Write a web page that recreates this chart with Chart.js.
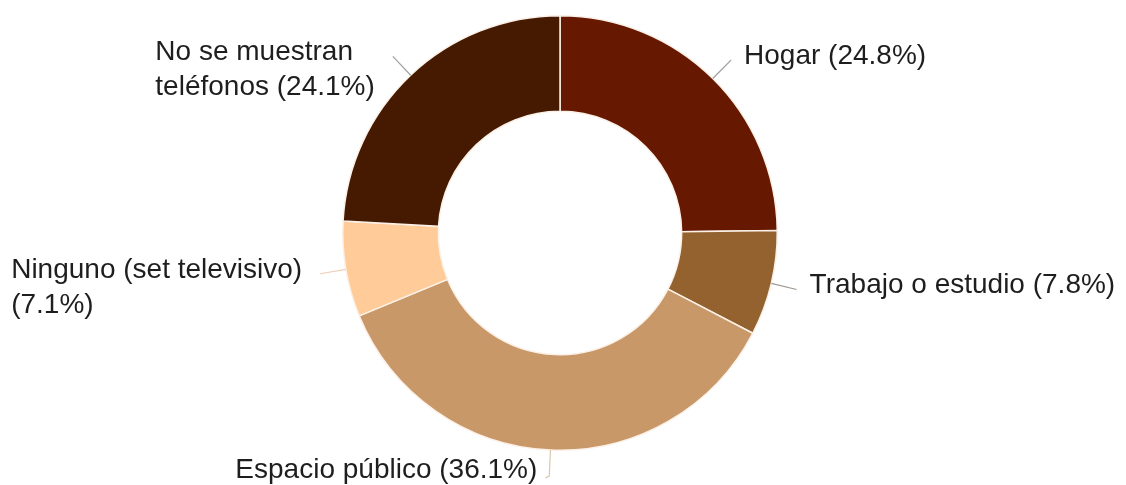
<!DOCTYPE html>
<html lang="es">
<head>
<meta charset="utf-8">
<title>Lugar donde se muestran teléfonos</title>
<script src="https://cdn.jsdelivr.net/npm/chart.js@4/dist/chart.umd.min.js"></script>
<style>
  html, body { margin: 0; padding: 0; background: #fff; }
  #wrap { position: relative; width: 1126px; height: 485px; }
</style>
</head>
<body>
<div id="wrap"><canvas id="placeChart"></canvas></div>
<script>
// multi-line categories: the share is appended to the last line
const categories = [
  "Hogar",
  "Trabajo o estudio",
  "Espacio público",
  ["Ninguno (set televisivo)", ""],
  ["No se muestran", "teléfonos"],
];
const shares = [24.8, 7.8, 36.1, 7.1, 24.1];

const sliceColors = ["#661900", "#94622f", "#c99868", "#ffcc99", "#461a00"];
const leaderColors = ["#9c9c9c", "#a09890", "#dcc6aa", "#f2cdb8", "#a0a0a0"];

function labelLines(i) {
  const cat = categories[i];
  const lines = Array.isArray(cat) ? cat.slice() : [cat];
  const last = lines.length - 1;
  lines[last] = (lines[last] + " (" + shares[i].toFixed(1) + "%)").trim();
  return lines;
}

// outside labels with leader lines, placed from each arc's own geometry
const sliceLabels = {
  id: "sliceLabels",
  afterDatasetsDraw(chart) {
    const ctx = chart.ctx;
    const arcs = chart.getDatasetMeta(0).data;
    const leader = 26;
    const lineHeight = 35;

    ctx.save();
    ctx.font = "28px 'Liberation Sans', Arial, sans-serif";
    ctx.textBaseline = "alphabetic";
    ctx.textAlign = "left";

    arcs.forEach((arc, i) => {
      const { x, y, startAngle, endAngle, outerRadius } = arc.getProps(
        ["x", "y", "startAngle", "endAngle", "outerRadius"], true);
      const mid = (startAngle + endAngle) / 2;
      const cos = Math.cos(mid), sin = Math.sin(mid);
      const x0 = x + outerRadius * cos, y0 = y + outerRadius * sin;
      const x1 = x + (outerRadius + leader) * cos, y1 = y + (outerRadius + leader) * sin;
      const right = cos >= 0;
      const bottom = sin > 0.95;

      ctx.strokeStyle = leaderColors[i];
      ctx.lineWidth = 1.2;
      ctx.beginPath();
      ctx.moveTo(x0, y0);
      ctx.lineTo(x1, y1);
      if (bottom) ctx.lineTo(x1 + (right ? 4 : -4), y1 + 2);
      ctx.stroke();

      const lines = labelLines(i);
      const blockWidth = Math.max(...lines.map(l => ctx.measureText(l).width));
      const gap = bottom ? 12 : right ? 13 : 18;
      const tx = right ? x1 + gap : x1 - gap - blockWidth;
      const ty = bottom ? y1 + 2 : y1 + 4;

      ctx.fillStyle = "#1e1e1e";
      lines.forEach((line, k) => ctx.fillText(line, tx, ty + k * lineHeight));
    });
    ctx.restore();
  },
};

new Chart(document.getElementById("placeChart"), {
  type: "doughnut",
  data: {
    labels: categories,
    datasets: [
      {
        data: shares,
        backgroundColor: sliceColors,
        borderColor: "#fbf1e8",
        borderWidth: 1.5,
      },
    ],
  },
  options: {
    responsive: true,
    maintainAspectRatio: false,
    animation: false,
    cutout: "56%",
    layout: { padding: { top: 14, bottom: 33, left: 342, right: 348 } },
    plugins: {
      legend: { display: false },
      tooltip: { enabled: false },
    },
  },
  plugins: [sliceLabels],
});
</script>
</body>
</html>
